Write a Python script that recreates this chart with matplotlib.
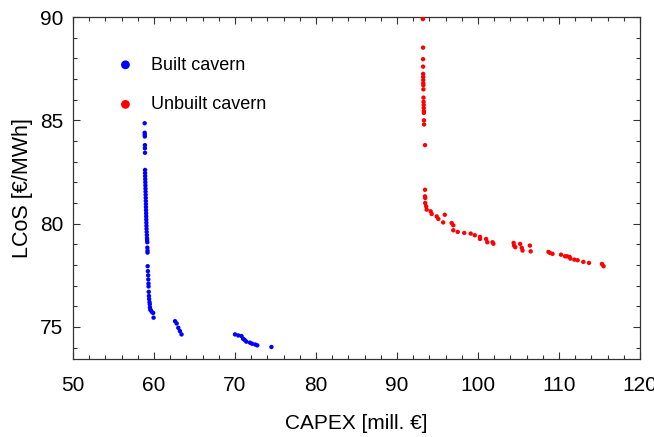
import matplotlib
matplotlib.use("Agg")
import matplotlib.pyplot as plt
from matplotlib.ticker import MultipleLocator

plt.rcParams['font.family'] = ['Liberation Sans', 'DejaVu Sans']

# Built cavern (blue)
built_capex = [58.85, 58.85, 58.86, 58.87, 58.88, 58.88, 58.89, 58.90, 58.90, 58.91,
               58.92, 58.93, 58.94, 58.95, 58.96, 58.97, 58.98, 58.99, 59.00, 59.01,
               59.02, 59.03, 59.04, 59.05, 59.06, 59.07, 59.08, 59.10, 59.12, 59.14,
               59.15, 59.17, 59.18, 59.20, 59.20, 59.22, 59.25, 59.28, 59.30, 59.32,
               59.33, 59.35, 59.38, 59.40, 59.45, 59.48, 59.50, 59.55, 59.60, 59.75,
               59.90, 59.95,
               62.6, 62.8, 63.0, 63.2, 63.4,
               70.0, 70.4, 70.8, 71.0, 71.2, 71.4, 71.85, 72.1, 72.5, 72.75, 74.5]
built_lcos = [84.86, 84.40, 84.30, 84.22, 83.80, 83.65, 83.43, 82.60, 82.45, 82.30,
              82.15, 82.00, 81.85, 81.70, 81.55, 81.40, 81.25, 81.10, 80.95, 80.80,
              80.65, 80.50, 80.35, 80.20, 80.05, 79.90, 79.75, 79.60, 79.45, 79.30,
              79.20, 79.10, 78.84, 78.70, 78.60, 77.94, 77.70, 77.50, 77.30, 77.10,
              76.96, 76.70, 76.50, 76.35, 76.20, 76.10, 75.95, 75.85, 75.80, 75.72,
              75.68, 75.45,
              75.28, 75.17, 74.96, 74.80, 74.64,
              74.64, 74.59, 74.56, 74.43, 74.37, 74.29, 74.24, 74.19, 74.15, 74.11, 74.03]

# Unbuilt cavern (red)
unbuilt_capex = [93.20, 93.20, 93.20, 93.22, 93.22, 93.22, 93.23, 93.23, 93.24, 93.24,
                 93.25, 93.26, 93.27, 93.28, 93.30, 93.30, 93.32, 93.32, 93.33, 93.34,
                 93.46,
                 93.46, 93.46, 93.48, 93.48, 93.60, 93.66, 94.15, 94.28, 94.90, 95.10,
                 95.90, 95.70, 96.75, 96.95, 96.95, 97.50, 98.30, 99.10, 99.60, 100.25,
                 100.25, 101.00, 101.15, 101.80, 101.90,
                 104.40, 104.45, 104.60, 105.20, 105.40, 105.50, 106.40, 106.50,
                 108.70, 108.90, 109.20, 110.25, 110.75, 111.00, 111.30, 111.40,
                 111.90, 112.30, 113.00, 113.70, 115.30, 115.50]
unbuilt_lcos = [90.00, 89.95, 89.90, 88.52, 87.96, 87.60, 87.25, 87.10, 86.95, 86.80,
                86.70, 86.50, 86.10, 85.90, 85.75, 85.60, 85.45, 85.36, 85.00, 84.80,
                83.80,
                81.64, 81.32, 81.24, 81.00, 80.84, 80.68, 80.60, 80.47, 80.35, 80.23,
                80.43, 80.06, 80.03, 79.92, 79.68, 79.60, 79.55, 79.52, 79.44, 79.36,
                79.26, 79.26, 79.10, 79.10, 79.03,
                79.07, 78.94, 78.86, 79.02, 78.83, 78.70, 78.94, 78.66,
                78.63, 78.58, 78.54, 78.50, 78.42, 78.42, 78.39, 78.31,
                78.26, 78.23, 78.15, 78.10, 78.05, 77.94]

x_ticks = [50, 60, 70, 80, 90, 100, 110, 120]
y_ticks = [75, 80, 85, 90]

fig = plt.figure(figsize=(6.54, 4.37), dpi=100)
ax = fig.add_axes([0.1116, 0.1785, 0.867, 0.7825])

ax.scatter(built_capex, built_lcos, s=10, color='#0000ff', edgecolors='none',
           label='Built cavern', zorder=3)
ax.scatter(unbuilt_capex, unbuilt_lcos, s=10, color='#ff0000', edgecolors='none',
           label='Unbuilt cavern', zorder=3)

ax.set_xlim(50, 120)
ax.set_ylim(73.45, 90)
ax.set_xticks(x_ticks)
ax.set_yticks(y_ticks)
ax.xaxis.set_minor_locator(MultipleLocator(2))
ax.yaxis.set_minor_locator(MultipleLocator(1))
ax.tick_params(which='both', direction='in', top=True, right=True, labelsize=15,
               color='#333333')
ax.tick_params(axis='x', which='major', length=5, width=0.8, pad=12)
ax.tick_params(axis='y', which='major', length=5, width=0.8, pad=7)
ax.tick_params(which='minor', length=3, width=0.8)
for sp in ax.spines.values():
    sp.set_color('#333333')
    sp.set_linewidth(0.9)

ax.set_xlabel('CAPEX [mill. €]', fontsize=15, labelpad=14)
ax.set_ylabel('LCoS [€/MWh]', fontsize=15.5, labelpad=5)

ax.legend(loc='upper left', bbox_to_anchor=(0.032, 0.932), frameon=False, fontsize=13,
          markerscale=2.0, handletextpad=0.4, labelspacing=1.25, scatterpoints=1)

fig.savefig('out.png', dpi=100)
